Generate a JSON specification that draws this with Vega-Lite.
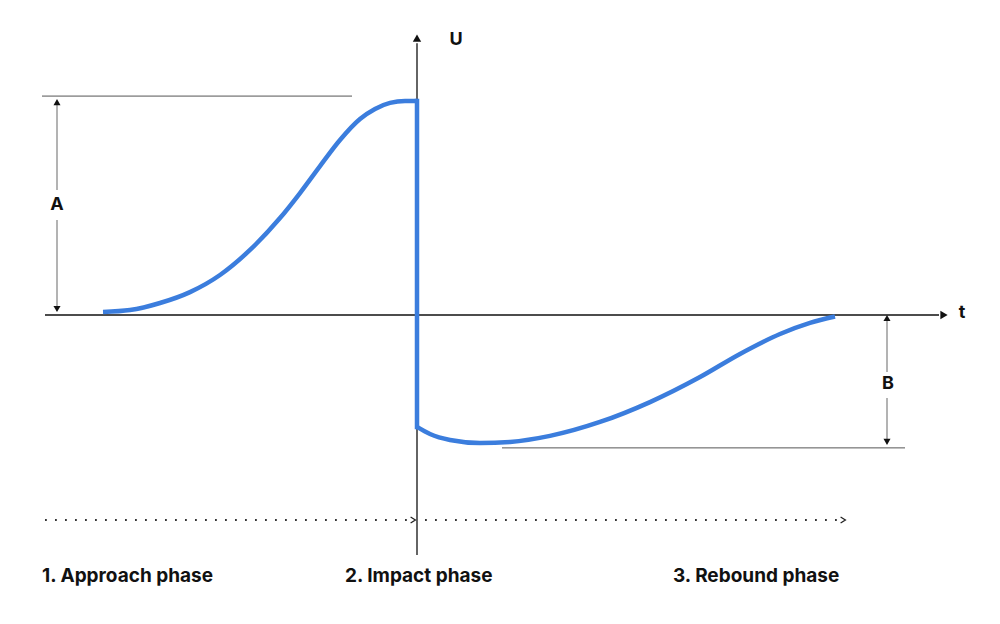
{
  "$schema": "https://vega.github.io/schema/vega-lite/v6.json",
  "width": 1000,
  "height": 624,
  "autosize": {"type": "fit", "contains": "padding"},
  "padding": 0,
  "background": "white",
  "config": {"view": {"stroke": null}},
  "datasets": {
    "approach": [
      {"t": -3.14, "u": 0.014},
      {"t": -2.87, "u": 0.023},
      {"t": -2.57, "u": 0.056},
      {"t": -2.27, "u": 0.107},
      {"t": -1.97, "u": 0.187},
      {"t": -1.67, "u": 0.304},
      {"t": -1.37, "u": 0.453},
      {"t": -1.17, "u": 0.57},
      {"t": -0.97, "u": 0.696},
      {"t": -0.77, "u": 0.818},
      {"t": -0.57, "u": 0.916},
      {"t": -0.42, "u": 0.963},
      {"t": -0.27, "u": 0.991},
      {"t": -0.12, "u": 1.0},
      {"t": 0, "u": 1.0}
    ],
    "impact": [
      {"t": 0, "u": 1.0, "t2": 0, "u2": -0.523}
    ],
    "rebound": [
      {"t": 0, "u": -0.523},
      {"t": 0.13, "u": -0.556},
      {"t": 0.33, "u": -0.584},
      {"t": 0.63, "u": -0.598},
      {"t": 0.93, "u": -0.593},
      {"t": 1.33, "u": -0.565},
      {"t": 1.83, "u": -0.5},
      {"t": 2.33, "u": -0.407},
      {"t": 2.83, "u": -0.29},
      {"t": 3.23, "u": -0.182},
      {"t": 3.63, "u": -0.089},
      {"t": 3.93, "u": -0.037},
      {"t": 4.18, "u": -0.007}
    ],
    "segments": [
      {"kind": "axis", "t": -3.72, "u": 0, "t2": 5.22, "u2": 0},
      {"kind": "axis", "t": 0, "u": -1.121, "t2": 0, "u2": 1.27},
      {"kind": "guide", "t": -3.75, "u": 1.023, "t2": -0.65, "u2": 1.023},
      {"kind": "guide", "t": 0.85, "u": -0.621, "t2": 4.88, "u2": -0.621},
      {"kind": "dim", "t": -3.6, "u": 1.0, "t2": -3.6, "u2": 0.584},
      {"kind": "dim", "t": -3.6, "u": 0.444, "t2": -3.6, "u2": 0.02},
      {"kind": "dim", "t": 4.7, "u": -0.01, "t2": 4.7, "u2": -0.266},
      {"kind": "dim", "t": 4.7, "u": -0.388, "t2": 4.7, "u2": -0.6},
      {"kind": "dotted", "t": -3.72, "u": -0.958, "t2": -0.07, "u2": -0.958},
      {"kind": "dotted", "t": 0.08, "u": -0.958, "t2": 4.23, "u2": -0.958}
    ],
    "heads": [
      {"kind": "axis", "dir": "right", "t": 5.27, "u": 0},
      {"kind": "axis", "dir": "up", "t": 0, "u": 1.294},
      {"kind": "dim", "dir": "up", "t": -3.6, "u": 0.995},
      {"kind": "dim", "dir": "down", "t": -3.6, "u": 0.028},
      {"kind": "dim", "dir": "up", "t": 4.7, "u": -0.014},
      {"kind": "dim", "dir": "down", "t": 4.7, "u": -0.593}
    ],
    "chevrons": [
      {"t": -0.04, "u": -0.958},
      {"t": 4.26, "u": -0.958}
    ],
    "labels": [
      {"kind": "symbol", "label": "U", "t": 0.39, "u": 1.283},
      {"kind": "symbol", "label": "t", "t": 5.45, "u": 0.01},
      {"kind": "symbol", "label": "A", "t": -3.6, "u": 0.514},
      {"kind": "symbol", "label": "B", "t": 4.71, "u": -0.322},
      {"kind": "phase", "label": "1. Approach phase", "t": -3.75, "u": -1.22},
      {"kind": "phase", "label": "2. Impact phase", "t": -0.72, "u": -1.22},
      {"kind": "phase", "label": "3. Rebound phase", "t": 2.56, "u": -1.22}
    ]
  },
  "layer": [
    {
      "data": {"name": "segments"},
      "transform": [{"filter": "datum.kind === 'guide'"}],
      "mark": {"type": "rule", "color": "#555555", "strokeWidth": 1},
      "encoding": {
        "x": {"field": "t", "type": "quantitative", "scale": {"domain": [-4.17, 5.83], "nice": false, "zero": false}, "axis": null},
        "y": {"field": "u", "type": "quantitative", "scale": {"domain": [-1.444, 1.472], "nice": false, "zero": false}, "axis": null},
        "x2": {"field": "t2"},
        "y2": {"field": "u2"}
      }
    },
    {
      "data": {"name": "segments"},
      "transform": [{"filter": "datum.kind === 'dim'"}],
      "mark": {"type": "rule", "color": "#8a8a8a", "strokeWidth": 1.3},
      "encoding": {
        "x": {"field": "t", "type": "quantitative", "scale": {"domain": [-4.17, 5.83], "nice": false, "zero": false}, "axis": null},
        "y": {"field": "u", "type": "quantitative", "scale": {"domain": [-1.444, 1.472], "nice": false, "zero": false}, "axis": null},
        "x2": {"field": "t2"},
        "y2": {"field": "u2"}
      }
    },
    {
      "data": {"name": "segments"},
      "transform": [{"filter": "datum.kind === 'dotted'"}],
      "mark": {"type": "rule", "color": "#333333", "strokeWidth": 1.8, "strokeDash": [1.8, 8.2]},
      "encoding": {
        "x": {"field": "t", "type": "quantitative", "scale": {"domain": [-4.17, 5.83], "nice": false, "zero": false}, "axis": null},
        "y": {"field": "u", "type": "quantitative", "scale": {"domain": [-1.444, 1.472], "nice": false, "zero": false}, "axis": null},
        "x2": {"field": "t2"},
        "y2": {"field": "u2"}
      }
    },
    {
      "data": {"name": "chevrons"},
      "mark": {"type": "point", "shape": "M-0.8,-1L0.8,0L-0.8,1", "filled": false, "color": "#222222", "strokeWidth": 1.3, "size": 36, "opacity": 1},
      "encoding": {
        "x": {"field": "t", "type": "quantitative", "scale": {"domain": [-4.17, 5.83], "nice": false, "zero": false}, "axis": null},
        "y": {"field": "u", "type": "quantitative", "scale": {"domain": [-1.444, 1.472], "nice": false, "zero": false}, "axis": null}
      }
    },
    {
      "data": {"name": "segments"},
      "transform": [{"filter": "datum.kind === 'axis'"}],
      "mark": {"type": "rule", "color": "#111111", "strokeWidth": 1.3},
      "encoding": {
        "x": {"field": "t", "type": "quantitative", "scale": {"domain": [-4.17, 5.83], "nice": false, "zero": false}, "axis": null},
        "y": {"field": "u", "type": "quantitative", "scale": {"domain": [-1.444, 1.472], "nice": false, "zero": false}, "axis": null},
        "x2": {"field": "t2"},
        "y2": {"field": "u2"}
      }
    },
    {
      "data": {"name": "approach"},
      "mark": {"type": "line", "color": "#3b7ddd", "strokeWidth": 4.5, "interpolate": "monotone", "strokeCap": "butt"},
      "encoding": {
        "x": {"field": "t", "type": "quantitative", "scale": {"domain": [-4.17, 5.83], "nice": false, "zero": false}, "axis": null},
        "y": {"field": "u", "type": "quantitative", "scale": {"domain": [-1.444, 1.472], "nice": false, "zero": false}, "axis": null}
      }
    },
    {
      "data": {"name": "rebound"},
      "mark": {"type": "line", "color": "#3b7ddd", "strokeWidth": 4.5, "interpolate": "monotone", "strokeCap": "butt"},
      "encoding": {
        "x": {"field": "t", "type": "quantitative", "scale": {"domain": [-4.17, 5.83], "nice": false, "zero": false}, "axis": null},
        "y": {"field": "u", "type": "quantitative", "scale": {"domain": [-1.444, 1.472], "nice": false, "zero": false}, "axis": null}
      }
    },
    {
      "data": {"name": "impact"},
      "mark": {"type": "rule", "color": "#3b7ddd", "strokeWidth": 4.5, "strokeCap": "square"},
      "encoding": {
        "x": {"field": "t", "type": "quantitative", "scale": {"domain": [-4.17, 5.83], "nice": false, "zero": false}, "axis": null},
        "y": {"field": "u", "type": "quantitative", "scale": {"domain": [-1.444, 1.472], "nice": false, "zero": false}, "axis": null},
        "x2": {"field": "t2"},
        "y2": {"field": "u2"}
      }
    },
    {
      "data": {"name": "heads"},
      "transform": [{"filter": "datum.kind === 'axis'"}],
      "mark": {"type": "point", "filled": true, "color": "#111111", "size": 70, "opacity": 1},
      "encoding": {
        "x": {"field": "t", "type": "quantitative", "scale": {"domain": [-4.17, 5.83], "nice": false, "zero": false}, "axis": null},
        "y": {"field": "u", "type": "quantitative", "scale": {"domain": [-1.444, 1.472], "nice": false, "zero": false}, "axis": null},
        "shape": {"field": "dir", "type": "nominal", "scale": {"domain": ["up", "down", "right"], "range": ["triangle-up", "triangle-down", "triangle-right"]}, "legend": null}
      }
    },
    {
      "data": {"name": "heads"},
      "transform": [{"filter": "datum.kind === 'dim'"}],
      "mark": {"type": "point", "filled": true, "color": "#111111", "size": 50, "opacity": 1},
      "encoding": {
        "x": {"field": "t", "type": "quantitative", "scale": {"domain": [-4.17, 5.83], "nice": false, "zero": false}, "axis": null},
        "y": {"field": "u", "type": "quantitative", "scale": {"domain": [-1.444, 1.472], "nice": false, "zero": false}, "axis": null},
        "shape": {"field": "dir", "type": "nominal", "scale": {"domain": ["up", "down", "right"], "range": ["triangle-up", "triangle-down", "triangle-right"]}, "legend": null}
      }
    },
    {
      "data": {"name": "labels"},
      "transform": [{"filter": "datum.kind === 'symbol'"}],
      "mark": {"type": "text", "font": "Inter", "fontWeight": "bold", "fontSize": 18, "color": "#111111", "align": "center", "baseline": "middle"},
      "encoding": {
        "x": {"field": "t", "type": "quantitative", "scale": {"domain": [-4.17, 5.83], "nice": false, "zero": false}, "axis": null},
        "y": {"field": "u", "type": "quantitative", "scale": {"domain": [-1.444, 1.472], "nice": false, "zero": false}, "axis": null},
        "text": {"field": "label"}
      }
    },
    {
      "data": {"name": "labels"},
      "transform": [{"filter": "datum.kind === 'phase'"}],
      "mark": {"type": "text", "font": "Inter", "fontWeight": "bold", "fontSize": 19, "color": "#111111", "align": "left", "baseline": "middle"},
      "encoding": {
        "x": {"field": "t", "type": "quantitative", "scale": {"domain": [-4.17, 5.83], "nice": false, "zero": false}, "axis": null},
        "y": {"field": "u", "type": "quantitative", "scale": {"domain": [-1.444, 1.472], "nice": false, "zero": false}, "axis": null},
        "text": {"field": "label"}
      }
    }
  ]
}
